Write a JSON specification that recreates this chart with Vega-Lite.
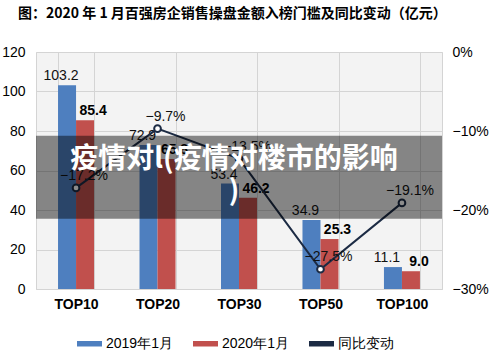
{
  "$schema": "https://vega.github.io/schema/vega-lite/v6.json",
  "width": 406,
  "height": 237,
  "autosize": {"type": "none"},
  "padding": {"left": 36, "top": 52, "right": 54, "bottom": 63},
  "background": "white",
  "config": {
    "font": "Liberation Sans",
    "view": {"stroke": "#d4d4d4", "fill": "#f3f3f3"}
  },
  "title": {
    "text": "图：2020 年 1 月百强房企销售操盘金额入榜门槛及同比变动（亿元）",
    "anchor": "start",
    "frame": "group",
    "dx": -18,
    "offset": 24,
    "fontSize": 14,
    "font": "Noto Sans CJK SC",
    "fontWeight": "bold",
    "color": "#000000"
  },
  "datasets": {
    "bars": [
      {"cat": "TOP10", "series": "2019年1月", "value": 103.2},
      {"cat": "TOP10", "series": "2020年1月", "value": 85.4},
      {"cat": "TOP20", "series": "2019年1月", "value": 72.9},
      {"cat": "TOP20", "series": "2020年1月", "value": 65.8},
      {"cat": "TOP30", "series": "2019年1月", "value": 53.4},
      {"cat": "TOP30", "series": "2020年1月", "value": 46.2},
      {"cat": "TOP50", "series": "2019年1月", "value": 34.9},
      {"cat": "TOP50", "series": "2020年1月", "value": 25.3},
      {"cat": "TOP100", "series": "2019年1月", "value": 11.1},
      {"cat": "TOP100", "series": "2020年1月", "value": 9.0}
    ],
    "changes": [
      {"cat": "TOP10", "chg": -0.172},
      {"cat": "TOP20", "chg": -0.097},
      {"cat": "TOP30", "chg": -0.135},
      {"cat": "TOP50", "chg": -0.275},
      {"cat": "TOP100", "chg": -0.191}
    ],
    "overlay": [
      {"caption": "疫情对l(疫情对楼市的影响"}
    ]
  },
  "resolve": {"scale": {"y": "independent"}, "axis": {"y": "independent"}},
  "layer": [
    {
      "data": {"name": "bars"},
      "encoding": {
        "x": {
          "field": "cat",
          "type": "nominal",
          "sort": ["TOP10", "TOP20", "TOP30", "TOP50", "TOP100"],
          "scale": {"paddingInner": 0.557, "paddingOuter": 0.27},
          "axis": {
            "title": null,
            "labelAngle": 0,
            "tickBand": "extent",
            "grid": true,
            "gridColor": "#d4d4d4",
            "ticks": false,
            "domainColor": "#d4d4d4",
            "labelFontSize": 14,
            "labelFontWeight": "bold",
            "labelColor": "#000000",
            "labelPadding": 8
          }
        },
        "y": {
          "field": "value",
          "type": "quantitative",
          "scale": {"domain": [0, 120], "nice": false},
          "axis": {
            "title": null,
            "values": [0, 20, 40, 60, 80, 100, 120],
            "grid": true,
            "gridColor": "#d4d4d4",
            "domain": false,
            "ticks": false,
            "labelFontSize": 14,
            "labelColor": "#000000",
            "labelPadding": 11
          }
        }
      },
      "layer": [
        {
          "transform": [{"filter": "datum.series === '2019年1月'"}],
          "mark": {"type": "bar", "width": 18, "xOffset": -9},
          "encoding": {
            "color": {
              "field": "series",
              "type": "nominal",
              "scale": {
                "domain": ["2019年1月", "2020年1月", "同比变动"],
                "range": ["#4e7fbf", "#c1504d", "#1c2b44"]
              },
              "legend": {
                "orient": "none",
                "legendX": 41,
                "legendY": 279,
                "direction": "horizontal",
                "title": null,
                "labelFontSize": 14,
                "labelColor": "#000000",
                "labelOffset": 4,
                "columnPadding": 20,
                "symbolType": "M-1,-0.22H1V0.22H-1Z",
                "symbolSize": 625,
                "symbolStrokeWidth": 0
              }
            }
          }
        },
        {
          "transform": [{"filter": "datum.series === '2020年1月'"}],
          "mark": {"type": "bar", "width": 18, "xOffset": 9},
          "encoding": {
            "color": {"field": "series", "type": "nominal"}
          }
        },
        {
          "transform": [{"filter": "datum.series === '2019年1月'"}],
          "mark": {"type": "text", "baseline": "bottom", "dy": -2, "dx": -15, "fontSize": 14, "color": "#111111"},
          "encoding": {
            "text": {"field": "value", "type": "quantitative", "format": ".1f"}
          }
        },
        {
          "transform": [{"filter": "datum.series === '2020年1月'"}],
          "mark": {"type": "text", "baseline": "bottom", "dy": -2, "dx": 17, "fontSize": 14, "fontWeight": "bold", "color": "#000000"},
          "encoding": {
            "text": {"field": "value", "type": "quantitative", "format": ".1f"}
          }
        }
      ]
    },
    {
      "layer": [
        {
          "data": {"name": "changes"},
          "mark": {"type": "line", "color": "#1c2b44", "strokeWidth": 2},
          "encoding": {
            "x": {"field": "cat", "type": "nominal", "sort": ["TOP10", "TOP20", "TOP30", "TOP50", "TOP100"]},
            "y": {
              "field": "chg",
              "type": "quantitative",
              "scale": {"domain": [-0.3, 0], "nice": false},
              "axis": {
                "orient": "right",
                "title": null,
                "values": [-0.3, -0.25, -0.2, -0.15, -0.1, -0.05, 0],
                "format": ".0%",
                "grid": false,
                "domain": false,
                "ticks": false,
                "labelFontSize": 14,
                "labelColor": "#000000",
                "labelPadding": 10
              }
            }
          }
        },
        {
          "data": {"name": "changes"},
          "mark": {"type": "point", "filled": true, "fill": "#ffffff", "stroke": "#1c2b44", "strokeWidth": 2, "size": 45, "opacity": 1},
          "encoding": {
            "x": {"field": "cat", "type": "nominal", "sort": ["TOP10", "TOP20", "TOP30", "TOP50", "TOP100"]},
            "y": {"field": "chg", "type": "quantitative"}
          }
        },
        {
          "data": {"name": "changes"},
          "mark": {"type": "text", "baseline": "bottom", "dy": -5, "dx": 8, "fontSize": 14, "color": "#111111"},
          "encoding": {
            "x": {"field": "cat", "type": "nominal", "sort": ["TOP10", "TOP20", "TOP30", "TOP50", "TOP100"]},
            "y": {"field": "chg", "type": "quantitative"},
            "text": {"field": "chg", "type": "quantitative", "format": ".1%"}
          }
        },
        {
          "data": {"name": "overlay"},
          "mark": {"type": "rect", "color": "#000000", "opacity": 0.45},
          "encoding": {
            "x": {"value": 0},
            "x2": {"value": {"expr": "width"}},
            "y": {"datum": -0.106, "type": "quantitative"},
            "y2": {"datum": -0.211}
          }
        },
        {
          "data": {"name": "overlay"},
          "mark": {
            "type": "text",
            "text": ["疫情对l(疫情对楼市的影响", ")"],
            "font": "Noto Sans CJK SC",
            "fontWeight": "bold",
            "fontSize": 28,
            "lineHeight": 32,
            "color": "#ffffff",
            "align": "center",
            "baseline": "alphabetic"
          },
          "encoding": {
            "x": {"value": {"expr": "width/2 - 5"}},
            "y": {"datum": -0.147, "type": "quantitative"}
          }
        }
      ]
    }
  ]
}
